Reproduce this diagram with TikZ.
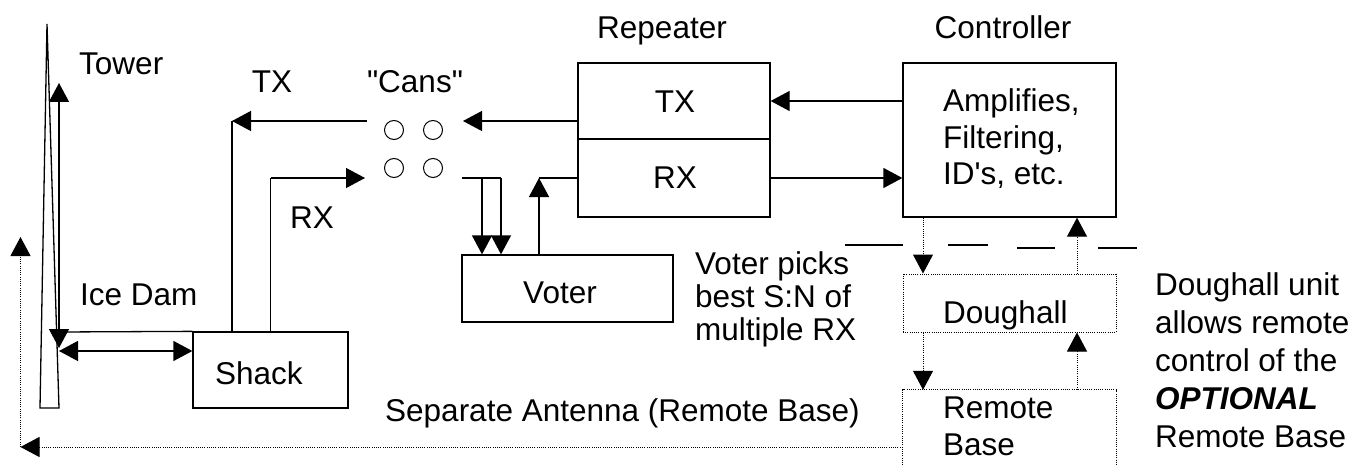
\documentclass[tikz,border=0pt]{standalone}
\usepackage{fontspec}
\setmainfont{Liberation Sans}[Ligatures=TeXOff]
\usetikzlibrary{arrows.meta}
\begin{document}
\begin{tikzpicture}[x=1pt,y=-1pt,
  ln/.style={line width=1.3pt},
  box/.style={draw, line width=1.3pt, inner sep=0pt},
  dbox/.style={draw, line width=1pt, dash pattern=on 1pt off 1.2pt, inner sep=0pt},
  dotl/.style={line width=1pt, dash pattern=on 1pt off 1.2pt},
  arr/.style={ln, -{Triangle[length=19pt,width=20pt]}},
  dblarr/.style={ln, {Triangle[length=19pt,width=20pt]}-{Triangle[length=19pt,width=20pt]}},
  darr/.style={dotl, -{Triangle[length=19pt,width=20pt]}},
  can/.style={draw, circle, line width=1pt, minimum size=19pt, inner sep=0pt},
  txt/.style={inner sep=0pt, font=\fontsize{31.5}{37}\selectfont},
]
\useasboundingbox (0,0) rectangle (1364,465);

% boxes
\node[box, minimum width=155pt, minimum height=76pt] (shack) at (270.5,370) {};
\node[box, minimum width=211pt, minimum height=67pt] (voter) at (567.5,288.5) {};
\node[box, minimum width=192pt, minimum height=76pt] (reptx) at (674,101) {};
\node[box, minimum width=192pt, minimum height=78pt] (reprx) at (674,178) {};
\node[box, minimum width=213pt, minimum height=154pt] (ctrl) at (1009.5,140) {};
\node[dbox, minimum width=213pt, minimum height=58pt] (dough) at (1009.5,303) {};
\node[inner sep=0pt, minimum width=213pt, minimum height=75pt] (rbase) at (1009.5,427.5) {};
\draw[dotl] (rbase.south west) -- (rbase.north west) -- (rbase.north east) -- (rbase.south east);

% tower
\coordinate (tbl) at (40,408);
\coordinate (ttop) at (47,24);
\coordinate (tbr) at (59,408);
\draw[ln] (tbl) -- (ttop) -- (tbr) -- cycle;

% cans
\node[can] (c1) at (394,130) {};
\node[can] (c2) at (433,130) {};
\node[can] (c3) at (394,168) {};
\node[can] (c4) at (433,168) {};

% TX path
\coordinate (txs) at (367,121);
\coordinate (txc) at (232,121);
\draw[arr] (txs) -- (txc);
\draw[ln] (txc) -- (txc |- shack.north);
% RX path
\coordinate (rxc) at (270.5,178);
\coordinate (rxe) at (365,178);
\draw[ln] (shack.north) -- (rxc);
\draw[arr] (rxc) -- (rxe);
% tower feed
\coordinate (tup) at (59,83);
\coordinate (tdn) at (59,348);
\coordinate (tj) at (59,332);
\draw[dblarr] (tdn) -- (tup);
\draw[ln] (tj) -- (shack.north west);
% ice dam
\coordinate (id) at (59,351);
\draw[dblarr] (id) -- (id -| shack.west);

% repeater TX to cans
\coordinate (cansin) at (463,121);
\draw[arr] (reptx.west |- cansin) -- (cansin);
% cans to voter
\coordinate (cansout) at (462,178);
\coordinate (v1) at (482,178);
\coordinate (v2) at (501,178);
\draw[ln] (cansout) -- (v2);
\draw[arr] (v1) -- (v1 |- voter.north);
\draw[arr] (v2) -- (v2 |- voter.north);
% voter to repeater RX
\coordinate (vr) at (539,178);
\draw[arr] (vr |- voter.north) -- (vr);
\draw[ln] (vr) -- (reprx.west);
% controller <-> repeater
\draw[arr] (ctrl.west |- reptx.east) -- (reptx.east);
\draw[arr] (reprx.east) -- (ctrl.west |- reprx.east);
% dotted control links
\coordinate (dl) at (923,0);
\coordinate (dr) at (1077,0);
\draw[darr] (dl |- ctrl.south) -- (dl |- dough.north);
\draw[darr] (dl |- dough.south) -- (dl |- rbase.north);
\draw[darr] (dr |- dough.north) -- (dr |- ctrl.south);
\draw[darr] (dr |- rbase.north) -- (dr |- dough.south);
% separate antenna
\coordinate (sa) at (20.5,447);
\coordinate (sae) at (20.5,237);
\draw[darr] (rbase.west |- sa) -- (sa);
\draw[darr] (sa) -- (sae);

% dashed divider
\draw[ln] (845,245) -- (903,245);
\draw[ln] (948,245) -- (988,245);
\draw[ln] (1017,248) -- (1055,248);
\draw[ln] (1098,248) -- (1137,248);

% texts
\node[txt, anchor=base west] (ltower) at (79,75) {Tower};
\node[txt, anchor=base] (ltx) at (272,93) {TX};
\node[txt, anchor=base] (lcans) at (415,93) {"Cans"};
\node[txt, anchor=base] (lrx) at (312,228) {RX};
\node[txt, anchor=base west] (lice) at (80,305) {Ice Dam};
\node[txt, anchor=base west] (lshack) at (215,384) {Shack};
\node[txt, anchor=base] (lrep) at (662,39) {Repeater};
\node[txt, anchor=base] (lctrl) at (1003,39) {Controller};
\node[txt, anchor=base] (lreptx) at (675,113) {TX};
\node[txt, anchor=base] (lreprx) at (675,189) {RX};
\node[txt, anchor=base west] (lc1) at (943,112) {Amplifies,};
\node[txt, anchor=base west] (lc2) at (943,148.5) {Filtering,};
\node[txt, anchor=base west] (lc3) at (943,185) {ID's, etc.};
\node[txt, anchor=base] (lvoter) at (560,303) {Voter};
\node[txt, anchor=base west] (lv1) at (695,274) {Voter picks};
\node[txt, anchor=base west] (lv2) at (695,307) {best S:N of};
\node[txt, anchor=base west] (lv3) at (695,340) {multiple RX};
\node[txt, anchor=base west] (ldough) at (943,323) {Doughall};
\node[txt, anchor=base west] (lrb1) at (943,418) {Remote};
\node[txt, anchor=base west] (lrb2) at (943,455) {Base};
\node[txt, anchor=base west] (lsep) at (385,421) {Separate Antenna (Remote Base)};
\node[txt, anchor=base west] (ld1) at (1155,295) {Doughall unit};
\node[txt, anchor=base west] (ld2) at (1155,333) {allows remote};
\node[txt, anchor=base west] (ld3) at (1155,371) {control of the};
\node[txt, anchor=base west] (ld4) at (1155,409) {\bfseries\itshape OPTIONAL};
\node[txt, anchor=base west] (ld5) at (1155,447) {Remote Base};
\end{tikzpicture}
\end{document}
